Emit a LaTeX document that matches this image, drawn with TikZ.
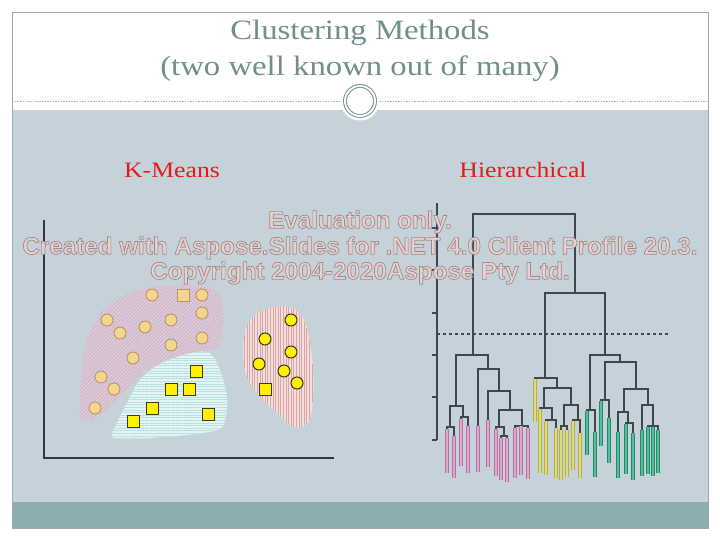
\documentclass[tikz,border=0pt]{standalone}
\usepackage{fontspec}
\setmainfont{Liberation Serif}
\newfontfamily\wmfont{Liberation Sans}
\usetikzlibrary{patterns.meta}
\definecolor{bodybg}{HTML}{C6D2D9}
\definecolor{footbg}{HTML}{8BADAD}
\definecolor{framec}{HTML}{9EAAAA}
\definecolor{titlec}{HTML}{6F8F8B}
\definecolor{ringc}{HTML}{7E9494}
\definecolor{labred}{HTML}{E41B1B}
\definecolor{wmlight}{HTML}{E9D0CF}
\definecolor{axisc}{HTML}{303A3E}
\definecolor{dendc}{HTML}{3C484E}
\definecolor{pinkbase}{HTML}{DCCCD9}
\definecolor{pinkline}{HTML}{CFAFC8}
\definecolor{cyanbase}{HTML}{E4F4F4}
\definecolor{cyanline}{HTML}{B4E0E2}
\definecolor{redbase}{HTML}{F2DEDC}
\definecolor{redline}{HTML}{D9A4A2}
\definecolor{paleyel}{HTML}{F3D68C}
\definecolor{palebrd}{HTML}{B8966A}
\definecolor{yel}{HTML}{FFF000}
\definecolor{yelbrd}{HTML}{3A3A1A}
\definecolor{lpE}{HTML}{B8719F}\definecolor{lpI}{HTML}{DDA8CC}
\definecolor{lyE}{HTML}{B8B040}\definecolor{lyI}{HTML}{DEDA80}
\definecolor{lgE}{HTML}{208A6C}\definecolor{lgI}{HTML}{5CBC98}
\tikzset{
  titlef/.style={text=titlec,font=\fontsize{28}{30}\selectfont,inner sep=0pt},
  labf/.style={text=labred,font=\fontsize{22}{24}\selectfont,inner sep=0pt},
  wmf/.style={text=wmlight,font=\wmfont\bfseries\fontsize{24.2}{26}\selectfont,inner sep=0pt},
  dl/.style={draw=dendc,line width=1.5pt,line join=miter},
  leafP/.style={draw=lpE,double=lpI,line width=1.2pt,double distance=1.4pt},
  leafY/.style={draw=lyE,double=lyI,line width=1.2pt,double distance=1.4pt},
  leafG/.style={draw=lgE,double=lgI,line width=1.2pt,double distance=1.4pt},
  pdot/.style={fill=paleyel,draw=palebrd,line width=0.9pt},
  ydot/.style={fill=yel,draw=yelbrd,line width=1pt},
}
\newcommand\outl[1]{\special{pdf:code 2 Tr 0.7 w 0.62 0.54 0.54 RG}#1\special{pdf:code 0 Tr}}
\begin{document}
\begin{tikzpicture}[x=1pt,y=-1pt]
\useasboundingbox (0,0) rectangle (720,540);
\fill[white] (0,0) rectangle (720,540);
\fill[bodybg] (12,110) rectangle (708,502);
\fill[footbg] (12,502) rectangle (708,528);
\draw[framec,line width=0.8pt] (12,12) rectangle (708,528);
\draw[ringc!70,line width=0.6pt,dash pattern=on 1.5pt off 1.2pt] (12,101) -- (708,101);
\fill[white] (360,101) circle (19.5pt);
\draw[ringc,line width=0.9pt] (360,101) circle (16.5pt);
\draw[ringc,line width=0.9pt] (360,101) circle (13.6pt);

\node[titlef] (t1) at (360,33) {\scalebox{1.17}[1]{Clustering Methods}};
\node[titlef] (t2) at (360,69) {\scalebox{1.17}[1]{(two well known out of many)}};
\node[labf] (km) at (172,170) {\scalebox{1.17}[1]{K-Means}};
\node[labf] (hi) at (523,170) {\scalebox{1.17}[1]{Hierarchical}};

% ---- K-means scatter ----
\draw[axisc,line width=1.2pt] (44,220) -- (44,458) -- (334,458);
\def\pinkblob{plot[smooth cycle,tension=0.55] coordinates {(80,413) (83,357) (92,327) (107,307) (130,293) (153,287) (180,285) (207,287) (220,295) (223,312) (222,333) (215,348) (197,353) (163,362) (137,378) (117,400) (97,417) (84,421)}}
\fill[pinkbase] \pinkblob;
\fill[pattern={Lines[angle=45,distance=2.6pt,line width=0.7pt]},pattern color=pinkline] \pinkblob;
\def\cyanblob{plot[smooth cycle,tension=0.55] coordinates {(112,437) (117,423) (127,403) (140,380) (160,364) (187,354) (207,352) (217,363) (225,387) (227,407) (222,427) (203,433) (163,437) (130,439)}}
\fill[cyanbase] \cyanblob;
\fill[pattern={Lines[angle=0,distance=2.6pt,line width=0.7pt]},pattern color=cyanline] \cyanblob;
\def\redblob{plot[smooth cycle,tension=0.55] coordinates {(244,337) (250,320) (263,310) (283,306) (300,313) (308,333) (313,367) (313,400) (308,423) (293,427) (277,413) (260,397) (247,377) (243,357)}}
\fill[redbase] \redblob;
\fill[pattern={Lines[angle=90,distance=2.6pt,line width=0.7pt]},pattern color=redline] \redblob;
\foreach \x/\y in {152/295,202/295,107/320,120/333,145/327,171/320,202/313,202/338,171/345,133/358,101/377,114/389,95/408}
  \draw[pdot] (\x,\y) circle (6pt);
\draw[pdot] (177,289) rectangle (189,301);
\foreach \x/\y in {196/371,171/389,189/389,152/408,133/421,208/414,265/389}
  \draw[ydot] (\x-6,\y-6) rectangle (\x+6,\y+6);
\foreach \x/\y in {291/320,265/339,291/352,259/364,284/371,297/383}
  \draw[ydot] (\x,\y) circle (6pt);

% ---- dendrogram ----
\draw[dl] (437,203) -- (437,440);
\foreach \y in {228,270,313,355,397,440} \draw[dl] (432,\y) -- (437,\y);
\draw[dendc,line width=1.2pt,dash pattern=on 3pt off 3pt] (437,334) -- (668,334);
\draw[dl] (473,355) -- (473,214) -- (575,214) -- (575,293);
\draw[dl] (545,378) -- (545,293) -- (605,293) -- (605,355);
% pink
\draw[dl] (456,406) -- (456,355) -- (488,355) -- (488,369);
\draw[dl] (450,427) -- (450,406) -- (463,406) -- (463,417);
\draw[dl] (447,429) -- (447,427) -- (454,427) -- (454,436);
\draw[dl] (461,419) -- (461,417) -- (468,417) -- (468,426);
\draw[dl] (478,426) -- (478,369) -- (499,369) -- (499,391);
\draw[dl] (488,420) -- (488,391) -- (510,391) -- (510,410);
\draw[dl] (499,427) -- (499,410) -- (522,410) -- (522,426);
\draw[dl] (496,429) -- (496,427) -- (504,427) -- (504,436);
\draw[dl] (501,438) -- (501,436) -- (507,436) -- (507,438);
\draw[dl] (515,428) -- (515,426) -- (528,426) -- (528,428);
\foreach \x/\a/\b in {447/429/473,454/436/478,461/419/466,468/426/473,478/426/472,488/420/467,496/429/476,501/438/480,507/438/482,515/428/478,521/426/475,528/428/479}
  \draw[leafP] (\x,\a) -- (\x,\b);
% yellow
\draw[dl] (535,380) -- (535,378) -- (557,378) -- (557,388);
\draw[dl] (544,408) -- (544,388) -- (571,388) -- (571,405);
\draw[dl] (540,410) -- (540,408) -- (552,408) -- (552,420);
\draw[dl] (546,422) -- (546,420) -- (556,420) -- (556,428);
\draw[dl] (564,426) -- (564,405) -- (578,405) -- (578,420);
\draw[dl] (561,430) -- (561,426) -- (567,426) -- (567,430);
\draw[dl] (573,422) -- (573,420) -- (580,420) -- (580,433);
\foreach \x/\a/\b in {535/379/422,540/409/473,546/421/475,556/428/478,561/430/480,567/430/477,573/421/470,580/433/478}
  \draw[leafY] (\x,\a) -- (\x,\b);
% green
\draw[dl] (590,410) -- (590,355) -- (620,355) -- (620,362);
\draw[dl] (587,412) -- (587,410) -- (595,410) -- (595,432);
\draw[dl] (605,400) -- (605,362) -- (636,362) -- (636,389);
\draw[dl] (601,402) -- (601,400) -- (609,400) -- (609,418);
\draw[dl] (624,412) -- (624,389) -- (648,389) -- (648,405);
\draw[dl] (618,432) -- (618,412) -- (628,412) -- (628,423);
\draw[dl] (626,425) -- (626,423) -- (633,423) -- (633,433);
\draw[dl] (642,430) -- (642,405) -- (653,405) -- (653,426);
\draw[dl] (648,428) -- (648,426) -- (658,426) -- (658,430);
\foreach \x/\a/\b in {587/411/455,595/432/477,601/401/446,609/418/463,618/432/478,626/424/474,633/433/480,642/430/476,648/427/474,653/427/476,658/430/473}
  \draw[leafG] (\x,\a) -- (\x,\b);

% ---- watermark ----
\node[wmf] (wm1) at (360,222) {\outl{Evaluation only.}};
\node[wmf] (wm2) at (360,248) {\outl{Created with Aspose.Slides for .NET 4.0 Client Profile 20.3.}};
\node[wmf] (wm3) at (360,273) {\outl{Copyright 2004-2020Aspose Pty Ltd.}};
\end{tikzpicture}
\end{document}
